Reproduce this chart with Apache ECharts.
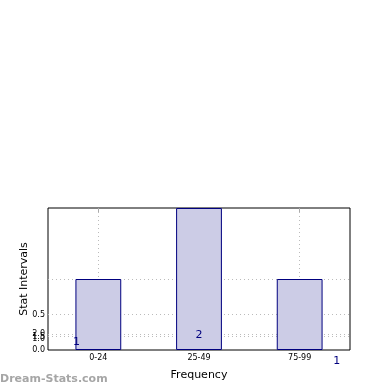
<!DOCTYPE html>
<html><head><meta charset="utf-8">
<script src="https://cdn.jsdelivr.net/npm/echarts@6/dist/echarts.min.js"></script>
<style>html,body{margin:0;padding:0;background:#fff}#c{width:390px;height:390px}</style>
</head><body><div id="c"></div>
<script>
// Data
var categories = ['0-24', '25-49', '75-99'];
var counts = [1, 2, 1];
var barLabels = ['1', '2', '1'];
// y axis tick values (as drawn) and their printed labels
var yTickValues = [0, 0.155, 0.19, 0.225, 0.5];
var yTickLabels = ['0.0', '1.0', '1.5', '2.0', '0.5'];
var yGridValues = [0.19, 0.225, 0.5, 1];
var xGridValues = [0, 1, 2];

var chart = echarts.init(document.getElementById('c'));
var font = 'DejaVu Sans';
var labelPos = [[1, 63], [23, 127], [60, 82]];

function helperX(pos) {
  return {
    type: 'value', min: -0.5, max: 2.5, position: pos,
    axisLine: {show: false}, axisLabel: {show: false},
    axisTick: {show: true, inside: true, length: 4, customValues: xGridValues, lineStyle: {color: '#aaa'}},
    splitLine: {show: pos === 'bottom', lineStyle: {color: '#bbb', type: [1, 3], width: 1}}
  };
}

var option = {
  animation: false,
  backgroundColor: '#fff',
  textStyle: {fontFamily: font},
  graphic: [{
    type: 'text', left: 0, top: 374,
    style: {text: 'Dream-Stats.com', fill: '#a6a6a6', font: 'bold 11px "DejaVu Sans"'}
  }],
  grid: {left: 48, right: 40, top: 208, bottom: 40, show: true, borderColor: '#000', borderWidth: 1, containLabel: false},
  xAxis: [{
    type: 'category', data: categories,
    name: 'Frequency', nameLocation: 'middle', nameGap: 20, nameMoveOverlap: false,
    nameTextStyle: {fontSize: 11, color: '#000', fontFamily: font},
    axisLine: {show: false},
    axisTick: {show: false},
    axisLabel: {fontSize: 8, color: '#000', margin: 4, fontFamily: font},
    splitLine: {show: false}
  }, helperX('bottom'), helperX('top')],
  yAxis: [{
    type: 'value', min: 0, max: 2,
    name: 'Stat Intervals', nameLocation: 'middle', nameGap: 18, nameRotate: 90, nameMoveOverlap: false,
    nameTextStyle: {fontSize: 11, color: '#000', fontFamily: font},
    axisLine: {show: false},
    axisTick: {show: false},
    axisLabel: {
      fontSize: 8, color: '#000', margin: 3, fontFamily: font,
      customValues: yTickValues,
      formatter: function (v) {
        for (var i = 0; i < yTickValues.length; i++) if (Math.abs(yTickValues[i] - v) < 1e-9) return yTickLabels[i];
        return '';
      }
    },
    splitLine: {show: false}
  }, {
    type: 'value', min: 0, max: 2, position: 'right',
    axisLine: {show: false}, axisLabel: {show: false},
    axisTick: {show: true, inside: true, length: 3, customValues: yGridValues, lineStyle: {color: '#aaa'}},
    splitLine: {show: true, lineStyle: {color: '#bbb', type: [1, 3], width: 1}}
  }],
  series: [{
    type: 'bar', xAxisIndex: 0, yAxisIndex: 0,
    barWidth: '45.5%',
    itemStyle: {color: 'rgba(204,204,230,1)', borderColor: '#00007f', borderWidth: 1},
    data: counts.map(function (v, i) {
      return {value: v, label: {show: true, position: labelPos[i], formatter: barLabels[i],
        color: '#00007f', fontSize: 11, align: 'center', verticalAlign: 'middle', fontFamily: font}};
    }),
    z: 1
  }]
};
chart.setOption(option);
</script></body></html>
